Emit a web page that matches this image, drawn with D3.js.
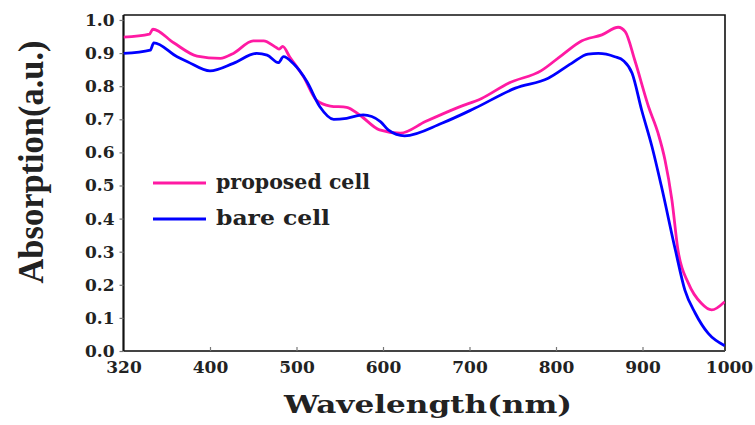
<!DOCTYPE html>
<html>
<head>
<meta charset="utf-8">
<script src="https://cdn.jsdelivr.net/npm/d3@7"></script>
<style>
  body { margin: 0; background: #fff; }
  .tick text { font-family: "DejaVu Serif", serif; font-weight: bold; font-size: 17px; fill: #222; }
  .legend text { font-family: "DejaVu Serif", serif; font-weight: bold; font-size: 21px; fill: #222; }
</style>
</head>
<body>
<svg id="chart" width="755" height="425"></svg>
<script>
// wavelength (nm) and absorption
const proposedWl = [300, 330, 334, 358, 385, 412, 427, 450, 462, 477, 480, 484, 492, 508, 523, 539, 558, 573, 596, 620, 649, 687, 714, 745, 783, 807, 830, 853, 872, 880, 891, 907, 918, 926, 934, 941, 953, 968, 980, 995];
const proposedAbs = [0.948, 0.957, 0.972, 0.931, 0.891, 0.884, 0.899, 0.937, 0.937, 0.916, 0.912, 0.920, 0.889, 0.829, 0.758, 0.740, 0.736, 0.713, 0.668, 0.658, 0.693, 0.736, 0.763, 0.809, 0.847, 0.894, 0.937, 0.955, 0.978, 0.965, 0.879, 0.738, 0.658, 0.577, 0.456, 0.305, 0.205, 0.144, 0.124, 0.149];

const bareWl = [300, 331, 335, 362, 374, 400, 427, 454, 466, 479, 485, 496, 512, 527, 543, 558, 577, 597, 606, 625, 668, 706, 753, 791, 818, 837, 849, 868, 878, 888, 899, 911, 922, 938, 949, 961, 976, 995];
const bareAbs = [0.899, 0.909, 0.931, 0.889, 0.874, 0.846, 0.869, 0.899, 0.894, 0.871, 0.889, 0.869, 0.814, 0.738, 0.700, 0.703, 0.713, 0.693, 0.668, 0.650, 0.688, 0.733, 0.794, 0.824, 0.869, 0.897, 0.899, 0.889, 0.877, 0.839, 0.728, 0.617, 0.496, 0.305, 0.184, 0.114, 0.053, 0.016];

const xTickValues = [300, 400, 500, 600, 700, 800, 900, 1000];
const xTickLabels = ['320', '400', '500', '600', '700', '800', '900', '1000'];
const yTickValues = [0, 0.1, 0.2, 0.3, 0.4, 0.5, 0.6, 0.7, 0.8, 0.9, 1.0];

const seriesNames = ['proposed cell', 'bare cell'];
const seriesColors = ['#ff1aa3', '#0000ff'];

const svg = d3.select('#chart');

const plotLeft = 123.5, plotRight = 725, plotTop = 15, plotBottom = 351;
const legendTextWidth = [154, 114];

const x = d3.scaleLinear().domain([300, 1000]).range([plotLeft, 729]);
const y = d3.scaleLinear().domain([0, 1.015]).range([plotBottom, plotTop]);

svg.append('clipPath').attr('id', 'clip')
  .append('rect')
  .attr('x', plotLeft).attr('y', plotTop - 5)
  .attr('width', plotRight - plotLeft).attr('height', plotBottom - plotTop + 5);

// frame
svg.append('path')
  .attr('d', `M${plotLeft},${plotTop}H${plotRight}V${plotBottom}`)
  .attr('fill', 'none')
  .attr('stroke', '#111')
  .attr('stroke-width', 1.6);

// x axis
const xAxis = svg.append('g')
  .attr('transform', `translate(0, ${plotBottom})`)
  .call(d3.axisBottom(x)
    .tickValues(xTickValues)
    .tickSizeInner(-4)
    .tickSizeOuter(0)
    .tickPadding(10)
    .tickFormat((d, i) => xTickLabels[i]));
xAxis.select('.domain').attr('d', `M${plotLeft},0H${plotRight}`).attr('stroke', '#444').attr('stroke-width', 2.2);
xAxis.selectAll('.tick line').attr('stroke', '#777').attr('stroke-width', 1.2)
  .filter(d => d === 300 || d === 1000).remove();

// y axis
const yAxis = svg.append('g')
  .attr('transform', `translate(${plotLeft}, 0)`)
  .call(d3.axisLeft(y)
    .tickValues(yTickValues)
    .tickSizeInner(4)
    .tickSizeOuter(0)
    .tickPadding(5)
    .tickFormat(d3.format('.1f')));
yAxis.select('.domain').attr('d', `M0,${plotBottom}V${plotTop}`).attr('stroke', '#111').attr('stroke-width', 2.2);
yAxis.selectAll('.tick line').attr('stroke', '#777').attr('stroke-width', 1.2);

// curves
const line = d3.line()
  .x(d => x(d[0]))
  .y(d => y(d[1]))
  .curve(d3.curveMonotoneX);

const series = [
  d3.zip(proposedWl, proposedAbs),
  d3.zip(bareWl, bareAbs)
];

svg.append('g').attr('clip-path', 'url(#clip)')
  .selectAll('path')
  .data(series)
  .join('path')
  .attr('d', line)
  .attr('fill', 'none')
  .attr('stroke', (d, i) => seriesColors[i])
  .attr('stroke-width', 2.8)
  .attr('stroke-linejoin', 'round');

// legend
const legend = svg.append('g').attr('class', 'legend')
  .selectAll('g')
  .data(seriesNames)
  .join('g')
  .attr('transform', (d, i) => `translate(153, ${183 + i * 36})`);

legend.append('line')
  .attr('x1', 0).attr('x2', 53)
  .attr('stroke', (d, i) => seriesColors[i])
  .attr('stroke-width', 3);

legend.append('text')
  .attr('x', 63)
  .attr('dy', '0.3em')
  .attr('textLength', (d, i) => legendTextWidth[i])
  .attr('lengthAdjust', 'spacingAndGlyphs')
  .text(d => d);

// axis titles
svg.append('text')
  .attr('x', 428)
  .attr('y', 413)
  .attr('text-anchor', 'middle')
  .attr('font-family', '"DejaVu Serif", serif')
  .attr('font-weight', 'bold')
  .attr('font-size', 24)
  .attr('fill', '#222')
  .attr('textLength', 288)
  .attr('lengthAdjust', 'spacingAndGlyphs')
  .text('Wavelength(nm)');

svg.append('text')
  .attr('transform', 'translate(43, 162) rotate(-90)')
  .attr('text-anchor', 'middle')
  .attr('font-family', '"Liberation Serif", serif')
  .attr('font-weight', 'bold')
  .attr('font-size', 36)
  .attr('fill', '#222')
  .attr('textLength', 243)
  .attr('lengthAdjust', 'spacingAndGlyphs')
  .text('Absorption(a.u.)');
</script>
</body>
</html>
